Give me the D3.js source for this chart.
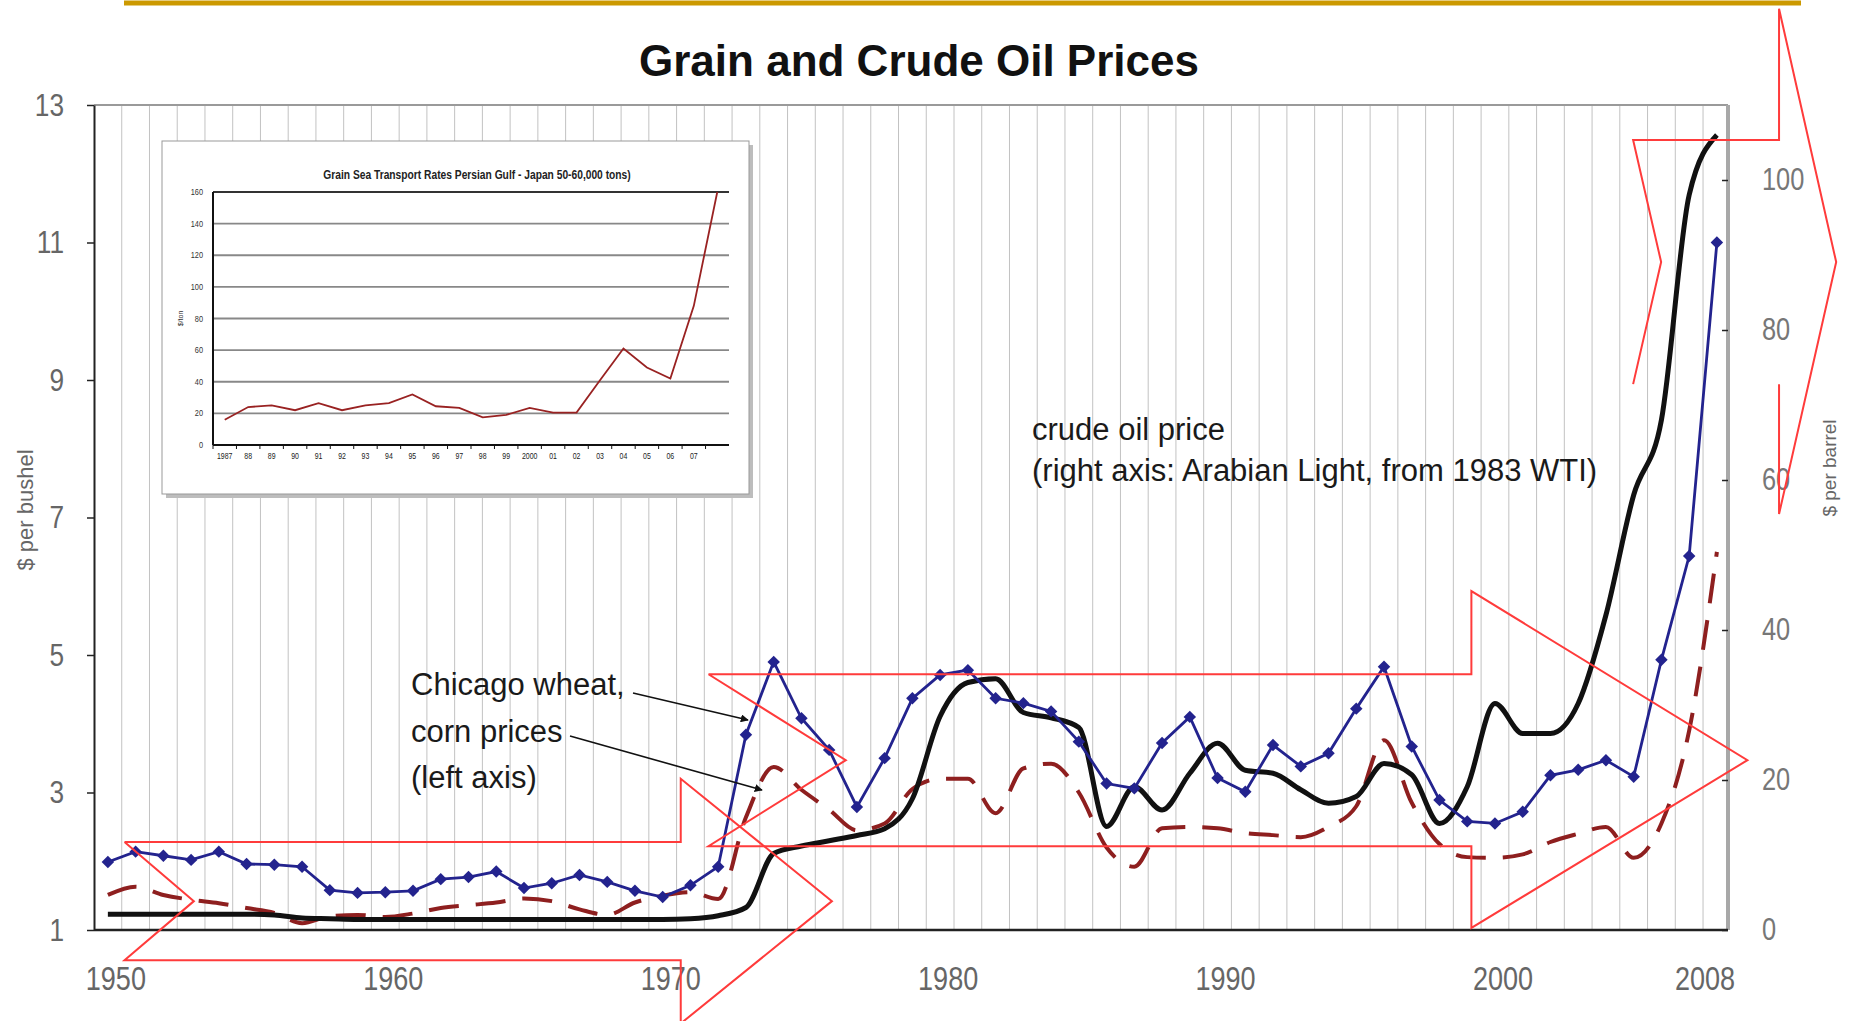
<!DOCTYPE html>
<html><head><meta charset="utf-8">
<script src="https://cdn.jsdelivr.net/npm/d3@7"></script>
<style>body{margin:0;background:#fff;}svg{display:block}</style>
</head><body>
<svg id="c" width="1854" height="1021"></svg>
<script>
// ---------------- data ----------------
const years = [1950,1951,1952,1953,1954,1955,1956,1957,1958,1959,1960,1961,1962,1963,1964,1965,1966,1967,1968,1969,
  1970,1971,1972,1973,1974,1975,1976,1977,1978,1979,1980,1981,1982,1983,1984,1985,1986,1987,1988,1989,
  1990,1991,1992,1993,1994,1995,1996,1997,1998,1999,2000,2001,2002,2003,2004,2005,2006,2007,2008];
// Chicago wheat ($/bushel, left axis)
const wheat = [1.99,2.14,2.08,2.02,2.14,1.96,1.95,1.92,1.58,1.54,1.55,1.57,1.74,1.77,1.85,1.61,1.68,1.80,1.70,1.57,
  1.48,1.65,1.92,3.84,4.90,4.08,3.62,2.79,3.50,4.37,4.71,4.78,4.37,4.30,4.18,3.74,3.13,3.06,3.72,4.10,
  3.21,3.01,3.69,3.38,3.57,4.22,4.83,3.67,2.89,2.58,2.55,2.72,3.25,3.33,3.47,3.23,4.93,6.44,11.0];
// Chicago corn ($/bushel, left axis)
const corn = [1.51,1.63,1.51,1.44,1.39,1.32,1.25,1.10,1.20,1.22,1.19,1.24,1.32,1.36,1.40,1.46,1.42,1.30,1.22,1.40,
  1.50,1.55,1.45,2.64,3.37,3.04,2.75,2.45,2.55,3.05,3.20,3.20,2.70,3.35,3.42,3.00,2.20,1.92,2.48,2.50,
  2.48,2.41,2.38,2.35,2.50,2.80,3.76,2.85,2.25,2.06,2.05,2.10,2.28,2.40,2.50,2.05,2.55,3.90,6.50];
// crude oil ($/barrel, right axis)
const oil = [2.1,2.1,2.1,2.1,2.1,2.1,2.0,1.6,1.5,1.4,1.4,1.4,1.4,1.4,1.4,1.4,1.4,1.4,1.4,1.4,
  1.4,1.5,1.9,3.0,10.2,11.2,11.9,12.6,13.5,17.5,28.5,33.0,33.5,29.0,28.3,27.0,13.8,19.1,16.0,20.9,
  24.9,21.3,20.9,18.7,16.9,17.8,22.2,20.7,14.2,19.1,30.2,26.2,26.2,30.2,42.0,58.0,68.0,98.0,106.0];
const leftTicks = [1,3,5,7,9,11,13];
const rightTicks = [0,20,40,60,80,100];
const xTickYears = [1950,1960,1970,1980,1990,2000,2008];
// inset: grain sea transport rates
const insetYears = [1987,1988,1989,1990,1991,1992,1993,1994,1995,1996,1997,1998,1999,2000,2001,2002,2003,2004,2005,2006,2007,2008];
const insetRates = [16,24,25,22,26.5,22,25,26.5,32,24.5,23.5,17.5,19,23.5,20.5,20.5,41,61,49,42,88,160];
const insetTickLabels = ["1987","88","89","90","91","92","93","94","95","96","97","98","99","2000","01","02","03","04","05","06","07"];
const insetYTicks = [0,20,40,60,80,100,120,140,160];

// ---------------- layout ----------------
const svg = d3.select("#c");
const M = {left:94, right:1728, top:105, bottom:930};
const x = d3.scaleLinear().domain([1949.5, 2008.4]).range([M.left, M.right]);
const yL = d3.scaleLinear().domain([1, 13]).range([M.bottom, M.top]);
const yR = d3.scaleLinear().domain([0, 110]).range([M.bottom, M.top]);
const SANS = "'Liberation Sans',Arial,Helvetica,sans-serif";
const SX = 0.82; // horizontal condensing to imitate a narrow face

// gold rule at top
svg.append("line").attr("x1",124).attr("x2",1801).attr("y1",3).attr("y2",3)
  .attr("stroke","#cc9900").attr("stroke-width",5);

// title
svg.append("text").attr("x",919).attr("y",76).attr("text-anchor","middle")
  .attr("font-family",SANS).attr("font-weight","bold").attr("font-size",44).attr("fill","#111")
  .text("Grain and Crude Oil Prices");

// vertical gridlines at category boundaries
svg.append("g").selectAll("line").data(years.slice(0,-1)).join("line")
  .attr("x1",d=>x(d+0.5)).attr("x2",d=>x(d+0.5)).attr("y1",M.top).attr("y2",M.bottom)
  .attr("stroke","#c2c2c2").attr("stroke-width",1);

// plot borders
svg.append("line").attr("x1",M.left).attr("x2",M.right).attr("y1",M.top).attr("y2",M.top)
  .attr("stroke","#9a9a9a").attr("stroke-width",2);
svg.append("line").attr("x1",M.right).attr("x2",M.right).attr("y1",M.top).attr("y2",M.bottom)
  .attr("stroke","#a8a8a8").attr("stroke-width",4);

// ---------------- inset chart ----------------
const I = {x0:162, y0:141, x1:749, y1:494, pl:213, pr:729, pt:192, pb:445};
const ig = svg.append("g");
ig.append("rect").attr("x",I.x0+4).attr("y",I.y0+4).attr("width",I.x1-I.x0).attr("height",I.y1-I.y0).attr("fill","#bdbdbd");
ig.append("rect").attr("x",I.x0).attr("y",I.y0).attr("width",I.x1-I.x0).attr("height",I.y1-I.y0)
  .attr("fill","#fff").attr("stroke","#999").attr("stroke-width",1);
const xI = d3.scaleBand().domain(insetYears).range([I.pl, I.pr]);
const yI = d3.scaleLinear().domain([0,160]).range([I.pb, I.pt]);
ig.append("text").attr("transform",`translate(477,179) scale(${SX},1)`).attr("text-anchor","middle")
  .attr("font-family",SANS).attr("font-weight","bold").attr("font-size",12.5).attr("fill","#222")
  .text("Grain Sea Transport Rates   Persian Gulf - Japan 50-60,000 tons)");
ig.append("g").selectAll("line").data(insetYTicks.slice(1)).join("line")
  .attr("x1",I.pl).attr("x2",I.pr).attr("y1",d=>yI(d)).attr("y2",d=>yI(d))
  .attr("stroke",d=>d===160?"#333":"#888").attr("stroke-width",1.8);
ig.append("g").selectAll("text").data(insetYTicks).join("text")
  .attr("transform",d=>`translate(${I.pl-10},${yI(d)+3}) scale(${SX},1)`).attr("text-anchor","end")
  .attr("font-family",SANS).attr("font-size",9).attr("fill","#333").text(d=>d);
ig.append("text").attr("transform",`translate(183,${(I.pt+I.pb)/2}) rotate(-90)`).attr("text-anchor","middle")
  .attr("font-family",SANS).attr("font-size",7).attr("fill","#333").text("$/ton");
ig.append("g").selectAll("line").data(insetYears).join("line")
  .attr("x1",d=>xI(d)).attr("x2",d=>xI(d)).attr("y1",I.pb).attr("y2",I.pb+4).attr("stroke","#111");
ig.append("g").selectAll("text").data(insetTickLabels).join("text")
  .attr("transform",(d,i)=>`translate(${xI(insetYears[i])+xI.bandwidth()/2},${I.pb+14}) scale(${SX},1)`)
  .attr("text-anchor","middle").attr("font-family",SANS).attr("font-size",8.5).attr("fill","#222").text(d=>d);
ig.append("line").attr("x1",I.pl).attr("x2",I.pl).attr("y1",I.pt).attr("y2",I.pb).attr("stroke","#111").attr("stroke-width",2);
ig.append("line").attr("x1",I.pl).attr("x2",I.pr).attr("y1",I.pb).attr("y2",I.pb).attr("stroke","#111").attr("stroke-width",2);
ig.append("path").datum(insetRates)
  .attr("d",d3.line().x((d,i)=>xI(insetYears[i])+xI.bandwidth()/2).y(d=>yI(d)))
  .attr("fill","none").attr("stroke","#992222").attr("stroke-width",1.8);

// ---------------- series ----------------
const oilLine = d3.line().x((d,i)=>x(years[i])).y(d=>yR(d)).curve(d3.curveMonotoneX);
const cornLine = d3.line().x((d,i)=>x(years[i])).y(d=>yL(d)).curve(d3.curveMonotoneX);
const wheatLine = d3.line().x((d,i)=>x(years[i])).y(d=>yL(d));

svg.append("path").datum(corn).attr("d",cornLine).attr("fill","none")
  .attr("stroke","#8e1f1f").attr("stroke-width",4).attr("stroke-dasharray","30,17");
svg.append("path").datum(oil).attr("d",oilLine).attr("fill","none")
  .attr("stroke","#111").attr("stroke-width",5).attr("stroke-linejoin","round");
svg.append("path").datum(wheat).attr("d",wheatLine).attr("fill","none")
  .attr("stroke","#23238e").attr("stroke-width",2.8);
svg.append("g").selectAll("path").data(wheat).join("path")
  .attr("d",d3.symbol(d3.symbolSquare).size(78))
  .attr("transform",(d,i)=>`translate(${x(years[i])},${yL(d)}) rotate(45)`)
  .attr("fill","#23238e");

// ---------------- axes ----------------
const condenseTicks = g => g.selectAll(".tick text").each(function(){
  const t = d3.select(this); t.attr("x", +t.attr("x")/SX).attr("transform",`scale(${SX},1)`);
});
const axL = svg.append("g").attr("transform",`translate(${M.left},0)`)
  .call(d3.axisLeft(yL).tickValues(leftTicks).tickSize(7).tickSizeOuter(0).tickPadding(23));
axL.select(".domain").attr("stroke","#222").attr("stroke-width",2);
axL.selectAll("line").attr("stroke","#222").attr("stroke-width",1.5);
axL.selectAll("text").attr("font-family",SANS).attr("font-size",32).attr("fill","#666");
condenseTicks(axL);

const axR = svg.append("g").attr("transform",`translate(${M.right},0)`)
  .call(d3.axisRight(yR).tickValues(rightTicks).tickSize(-6).tickSizeOuter(0).tickPadding(34));
axR.select(".domain").remove();
axR.selectAll("line").attr("stroke","#222").attr("stroke-width",1.5);
axR.selectAll("text").attr("font-family",SANS).attr("font-size",31).attr("fill","#777");
condenseTicks(axR);

svg.append("line").attr("x1",M.left).attr("x2",M.right).attr("y1",M.bottom).attr("y2",M.bottom)
  .attr("stroke","#222").attr("stroke-width",2.5);
svg.append("g").selectAll("text").data(xTickYears).join("text")
  .attr("transform",d=>`translate(${Math.min(x(d)+8,1705)},990) scale(${SX},1)`).attr("text-anchor","middle")
  .attr("font-family",SANS).attr("font-size",33).attr("fill","#666").text(d=>d);

svg.append("text").attr("transform","translate(33,510) rotate(-90)").attr("text-anchor","middle")
  .attr("font-family",SANS).attr("font-size",22).attr("fill","#666").text("$ per bushel");
svg.append("text").attr("transform","translate(1836,468) rotate(-90)").attr("text-anchor","middle")
  .attr("font-family",SANS).attr("font-size",19).attr("fill","#666").text("$ per barrel");

// ---------------- annotations ----------------
// notched block arrows, defined in data space (years, left-axis values)
const notchedArrows = [
  {x0:1950.6, xn:1953.1, x1:1970.65, xt:1976.1, yTop:2.28, yBot:0.56, yHT:3.2, yHB:-0.36, closed:true},
  {x0:1971.65, xn:1976.6, x1:1999.15, xt:2009.1, yTop:4.72, yBot:2.22, yHT:5.93, yHB:1.03, closed:true},
  {x0:2004.98, xn:2005.99, x1:2010.24, xt:2012.3, yTop:12.49, yBot:8.94, yHT:14.4, yHB:7.05, closed:false}
];
const arrowPts = a => {
  const yc = (a.yTop + a.yBot)/2;
  const pts = a.closed
    ? [[a.x0,a.yTop],[a.x1,a.yTop],[a.x1,a.yHT],[a.xt,yc],[a.x1,a.yHB],[a.x1,a.yBot],[a.x0,a.yBot],[a.xn,yc],[a.x0,a.yTop]]
    : [[a.x0,a.yBot],[a.xn,yc],[a.x0,a.yTop],[a.x1,a.yTop],[a.x1,a.yHT],[a.xt,yc],[a.x1,a.yHB],[a.x1,a.yBot]];
  return d3.line().x(p=>x(p[0])).y(p=>yL(p[1]))(pts);
};
svg.append("g").selectAll("path").data(notchedArrows).join("path")
  .attr("d",arrowPts).attr("fill","none").attr("stroke","#ff3b3b").attr("stroke-width",2)
  .attr("stroke-linejoin","miter");

// text labels
const txt = (s,xx,yy)=>svg.append("text").attr("x",xx).attr("y",yy)
  .attr("font-family",SANS).attr("font-size",31).attr("fill","#1a1a1a").text(s);
txt("crude oil price",1032,440);
txt("(right axis: Arabian Light, from 1983 WTI)",1032,481);
txt("Chicago wheat,",411,695);
txt("corn prices",411,742);
txt("(left axis)",411,788);

svg.append("defs").append("marker").attr("id","ah").attr("viewBox","0 0 10 10")
  .attr("refX",9).attr("refY",5).attr("markerWidth",5).attr("markerHeight",5).attr("orient","auto")
  .append("path").attr("d","M0,0L10,5L0,10z").attr("fill","#111");
svg.append("line").attr("x1",633).attr("y1",693).attr("x2",748).attr("y2",720)
  .attr("stroke","#111").attr("stroke-width",1.6).attr("marker-end","url(#ah)");
svg.append("line").attr("x1",570).attr("y1",736).attr("x2",762).attr("y2",790)
  .attr("stroke","#111").attr("stroke-width",1.6).attr("marker-end","url(#ah)");
</script>
</body></html>
